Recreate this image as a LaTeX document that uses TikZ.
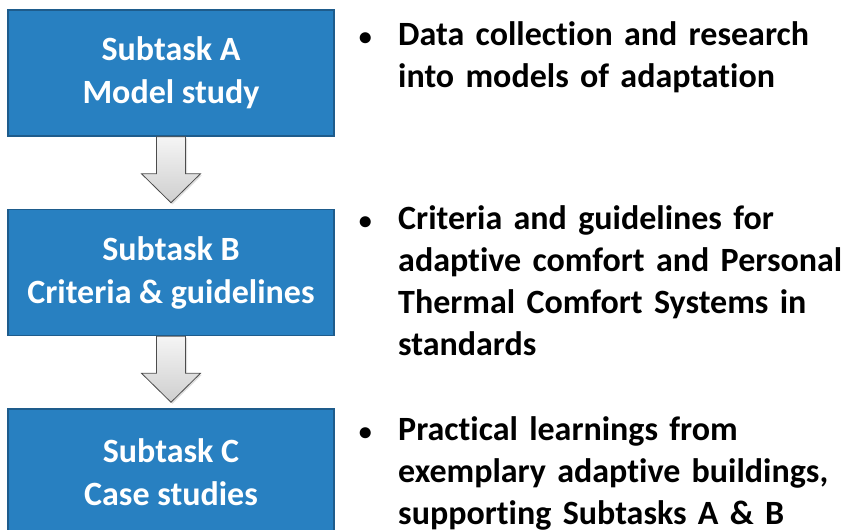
\documentclass[tikz,border=0pt]{standalone}
\usepackage{fontspec}
\setmainfont{Carlito}[Ligatures=NoCommon]
\usetikzlibrary{positioning,calc,shadows}
\definecolor{taskblue}{RGB}{40,128,193}
\definecolor{taskedge}{RGB}{30,92,140}
\tikzset{
  taskbox/.style={draw=taskedge,line width=1.5pt,fill=taskblue,text=white,
    minimum width=326pt,minimum height=126pt,align=center,inner sep=0pt,
    font=\fontsize{34}{43}\selectfont\bfseries,
    execute at begin node={\rule{0pt}{30pt}}},
  desc/.style={anchor=base west,align=left,inner sep=0pt,text width=450pt,
    font=\fontsize{34}{42.3}\selectfont\bfseries},
  downarrow/.style={draw=gray!60!black,line width=0.8pt,top color=gray!8,
    bottom color=gray!38,line join=miter,
    drop shadow={opacity=0.25,shadow xshift=1.5pt,shadow yshift=-1.5pt}}
}
\begin{document}
\begin{tikzpicture}[x=1pt,y=1pt]
  \useasboundingbox (0,0) rectangle (846,-530);
  % the three subtasks
  \node[taskbox] (subA) at (171,-73) {Subtask A\\Model study};
  \node[taskbox,below=72pt of subA] (subB) {Subtask B\\Criteria \& guidelines};
  \node[taskbox,below=72pt of subB] (subC) {Subtask C\\Case studies};
  % block arrows between them
  \foreach \from/\to in {subA/subB,subB/subC}{
    \path[downarrow] ($(\from.south)+(-14.5,0)$) -- ($(\to.north)+(-14.5,35)$)
      -- ($(\to.north)+(-29.5,35)$) -- ($(\to.north)+(0,6)$)
      -- ($(\to.north)+(29.5,35)$) -- ($(\to.north)+(14.5,35)$)
      -- ($(\from.south)+(14.5,0)$) -- cycle;
  }
  % descriptions
  \node[desc] (descA) at (398,-45) {Data collection and research\\into models of adaptation};
  \node[desc] (descB) at (398,-229) {Criteria and guidelines for\\adaptive comfort and Personal\\Thermal Comfort Systems in\\standards};
  \node[desc] (descC) at (398,-440) {Practical learnings from\\exemplary adaptive buildings,\\supporting Subtasks A \& B};
  \foreach \d in {descA,descB,descC}
    \node[desc,text width=20pt,anchor=base east,font=\fontsize{26}{30}\selectfont\bfseries]
      at ($(\d.base west)+(-19,0)$) {\textbullet};
\end{tikzpicture}
\end{document}
